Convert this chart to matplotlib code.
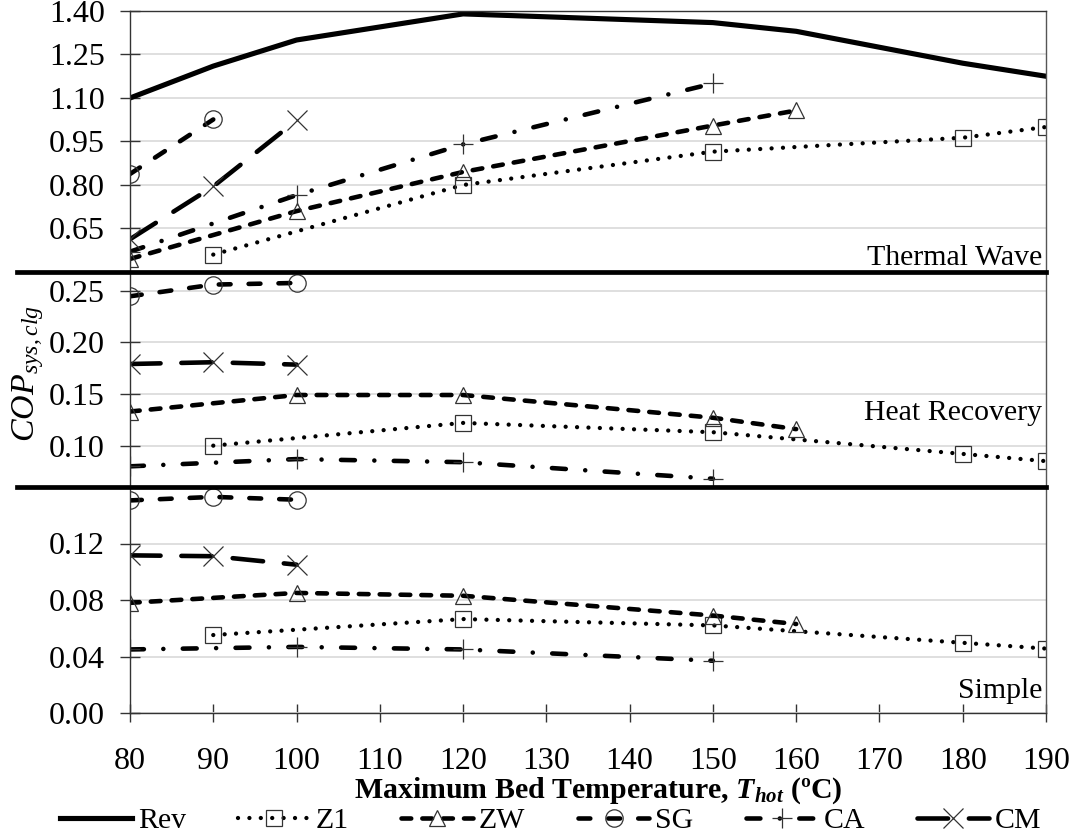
import matplotlib
matplotlib.use("Agg")
import matplotlib.pyplot as plt
from matplotlib.lines import Line2D

plt.rcParams['font.family'] = ['Liberation Serif', 'DejaVu Serif']
plt.rcParams['mathtext.fontset'] = 'custom'
plt.rcParams['mathtext.rm'] = 'Liberation Serif'
plt.rcParams['mathtext.it'] = 'Liberation Serif:italic'
plt.rcParams['mathtext.bf'] = 'Liberation Serif:bold'
plt.rcParams['mathtext.bfit'] = 'Liberation Serif:italic:bold'
plt.rcParams['lines.scale_dashes'] = False

# bed temperatures for each adsorbent pair
t_rev = [80, 90, 100, 120, 150, 160, 180, 190]
t_z1 = [90, 120, 150, 180, 190]
t_zw = [80, 100, 120, 150, 160]
t_sg = [80, 90, 100]
t_sg_tw = [80, 90]
t_ca = [80, 100, 120, 150]
t_cm = [80, 90, 100]

# thermal wave cycle
rev_tw = [1.10, 1.21, 1.30, 1.39, 1.36, 1.33, 1.22, 1.175]
z1_tw = [0.56, 0.80, 0.915, 0.963, 1.00]
zw_tw = [0.545, 0.71, 0.845, 1.005, 1.057]
sg_tw = [0.838, 1.026]
ca_tw = [0.57, 0.765, 0.94, 1.15]
cm_tw = [0.613, 0.795, 1.023]

# heat recovery cycle
z1_hr = [0.100, 0.122, 0.113, 0.092, 0.085]
zw_hr = [0.133, 0.149, 0.149, 0.127, 0.116]
sg_hr = [0.2445, 0.2558, 0.2574]
ca_hr = [0.080, 0.087, 0.084, 0.068]
cm_hr = [0.179, 0.1807, 0.1784]

# simple cycle
z1_s = [0.0552, 0.0665, 0.062, 0.0497, 0.0456]
zw_s = [0.078, 0.085, 0.083, 0.069, 0.063]
sg_s = [0.1505, 0.153, 0.151]
ca_s = [0.045, 0.0468, 0.045, 0.037]
cm_s = [0.1116, 0.111, 0.105]

W, H = 1075, 836
fig = plt.figure(figsize=(W / 100, H / 100), dpi=100)

left, right = 130, 1046
def rect(top, bottom):
    return [left / W, 1 - bottom / H, (right - left) / W, (bottom - top) / H]

ax_tw = fig.add_axes(rect(11, 272))
ax_hr = fig.add_axes(rect(272, 487))
ax_s = fig.add_axes(rect(487, 713))

mk = dict(mfc='none', mec='#333333', mew=0.9)
styles = {
    'Rev': dict(color='black', lw=3.7, ls='-'),
    'Z1': dict(color='black', lw=3.1, ls=(0, (0.01, 8.2)), dash_capstyle='round',
               marker='s', ms=12, **mk),
    'ZW': dict(color='black', lw=3.3, ls=(0, (7, 8)), dash_capstyle='round',
               marker='^', ms=12, **mk),
    'SG': dict(color='black', lw=3.3, ls=(0, (8.5, 13)), dash_capstyle='round',
               marker='o', ms=12.5, **mk),
    'CA': dict(color='black', lw=3.3, ls=(0, (10, 14, 0.01, 14)), dash_capstyle='round',
               marker='+', ms=14, **mk),
    'CM': dict(color='black', lw=3.3, ls=(0, (22, 15)), dash_capstyle='round',
               marker='x', ms=15, **mk),
}

handles = []
handles += ax_tw.plot(t_rev, rev_tw, label='Rev', **styles['Rev'])
handles += ax_tw.plot(t_z1, z1_tw, label='Z1', **styles['Z1'])
handles += ax_tw.plot(t_zw, zw_tw, label='ZW', **styles['ZW'])
handles += ax_tw.plot(t_sg_tw, sg_tw, label='SG', **styles['SG'])
handles += ax_tw.plot(t_ca, ca_tw, label='CA', **styles['CA'])
handles += ax_tw.plot(t_cm, cm_tw, label='CM', **styles['CM'])

for ax, z1, zw, sg, ca, cm in [(ax_hr, z1_hr, zw_hr, sg_hr, ca_hr, cm_hr),
                               (ax_s, z1_s, zw_s, sg_s, ca_s, cm_s)]:
    ax.plot(t_z1, z1, **styles['Z1'])
    ax.plot(t_zw, zw, **styles['ZW'])
    ax.plot(t_sg, sg, **styles['SG'])
    ax.plot(t_ca, ca, **styles['CA'])
    ax.plot(t_cm, cm, **styles['CM'])

ax_tw.set_ylim(0.50, 1.40)
ax_tw.set_yticks([0.65, 0.80, 0.95, 1.10, 1.25, 1.40])
ax_hr.set_ylim(0.06, 0.268)
ax_hr.set_yticks([0.10, 0.15, 0.20, 0.25])
ax_s.set_ylim(0.0, 0.16)
ax_s.set_yticks([0.00, 0.04, 0.08, 0.12])

for ax in (ax_tw, ax_hr, ax_s):
    ax.set_xlim(80, 190)
    ax.set_xticks(range(80, 191, 10))
    ax.yaxis.set_major_formatter(matplotlib.ticker.FormatStrFormatter('%.2f'))
    ax.grid(axis='y', color='#dcdcdc', lw=1.3)
    ax.set_axisbelow(True)
    ax.tick_params(axis='y', direction='inout', length=14, width=1.0,
                   labelsize=23, pad=11, color='#333333')
    ax.tick_params(axis='x', direction='inout', length=13, width=1.0,
                   labelsize=23, pad=18, color='#333333')
    ax.spines['left'].set_color('#333333')
    ax.spines['right'].set_color('#555555')
    ax.spines['top'].set_color('#333333')
    ax.spines['bottom'].set_color('#333333')
    for s in ax.spines.values():
        s.set_linewidth(1.0)
    if ax is not ax_s:
        ax.tick_params(axis='x', bottom=False, labelbottom=False)

ax_tw.spines['bottom'].set_visible(False)
ax_hr.spines['top'].set_visible(False)
ax_hr.spines['bottom'].set_visible(False)
ax_s.spines['top'].set_visible(False)

# thick separators between the cycle panels
for ypx in (272, 487):
    fig.add_artist(Line2D([17 / W, right / W], [1 - ypx / H, 1 - ypx / H],
                          color='black', lw=3.4, transform=fig.transFigure))

ax_tw.text(0.9956, 0.025, 'Thermal Wave', transform=ax_tw.transAxes,
           ha='right', va='baseline', fontsize=21.5)
ax_hr.text(0.9956, 0.31, 'Heat Recovery', transform=ax_hr.transAxes,
           ha='right', va='baseline', fontsize=21.5)
ax_s.text(0.9956, 0.066, 'Simple', transform=ax_s.transAxes,
          ha='right', va='baseline', fontsize=21.5)

fig.text(28 / W, 1 - 374 / H, r'$COP_{sys,clg}$', rotation=90,
         ha='center', va='center', fontsize=24.5)
fig.text(598 / W, 1 - 791 / H,
         r'Maximum Bed Temperature, $\mathbfit{T}_{\mathbfit{hot}}$ (ºC)',
         ha='center', va='center', fontsize=21.5, fontweight='bold')

fig.legend(handles=handles, loc='center', bbox_to_anchor=(551 / W, 1 - 821 / H),
           ncol=6, frameon=False, fontsize=21.5, handlelength=2.4,
           handletextpad=0.2, columnspacing=1.75, numpoints=1,
           borderaxespad=0, borderpad=0)

fig.savefig('out.png', dpi=100)
